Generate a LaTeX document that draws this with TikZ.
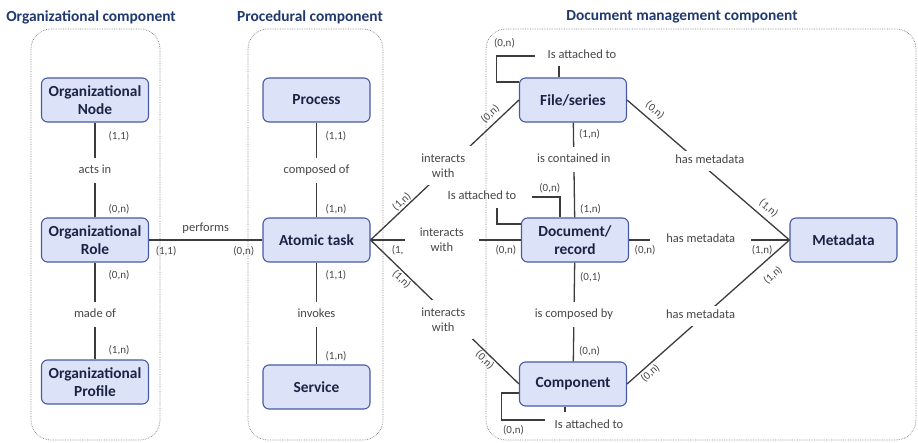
\documentclass[tikz,border=0pt]{standalone}
\usepackage{fontspec}
\setmainfont{Carlito}
\usetikzlibrary{positioning}
\definecolor{boxfill}{RGB}{220,227,248}
\definecolor{boxline}{RGB}{72,89,165}
\definecolor{boxtext}{RGB}{28,36,70}
\definecolor{headblue}{RGB}{31,56,110}
\definecolor{linegray}{RGB}{60,60,60}
\definecolor{labelgray}{RGB}{70,70,70}

\begin{document}
\begin{tikzpicture}[x=1pt,y=-1pt]
    \tikzset{entity/.style = {shape=rectangle, rounded corners=6pt, draw=boxline, line width=1.1pt, fill=boxfill, text=boxtext, font=\fontsize{15.4}{18.5}\selectfont\bfseries, align=center, minimum width=107pt, minimum height=44pt}}
    \tikzset{edge/.style = {draw=linegray, line width=1.3pt, -}}
    \tikzset{rel/.style = {fill=white, text=labelgray, font=\fontsize{12.5}{15}\selectfont, text height=9pt, text depth=3pt, inner xsep=3pt, inner ysep=6.5pt}}
    \tikzset{relm/.style = {fill=white, text=labelgray, font=\fontsize{12.5}{15}\selectfont, align=center, inner sep=8pt}}
    \tikzset{lbl/.style = {text=labelgray, font=\fontsize{12.5}{15}\selectfont, text height=9pt, text depth=3pt, inner sep=3pt}}
    \tikzset{card/.style = {text=labelgray, font=\fontsize{11}{13}\selectfont, inner sep=1pt}}
    \tikzset{title/.style = {text=headblue, font=\fontsize{15.4}{18}\selectfont\bfseries}}
    \tikzset{group/.style = {draw=gray, densely dotted, line width=0.7pt, rounded corners=20pt}}

    \useasboundingbox (0,0) rectangle (918,443);

    % components
    \draw[group] (31,29) rectangle (160,440);
    \draw[group] (248,29) rectangle (383,440);
    \draw[group] (486,29) rectangle (916,440);
    \node[title] (torg) at (91,17) {Organizational component};
    \node[title] (tproc) at (310,17) {Procedural component};
    \node[title] (tdoc) at (682,17) {Document management component};

    % vertices
    \node[entity] (on) at (95,100) {Organizational\\Node};
    \node[entity] (or) at (95,240) {Organizational\\Role};
    \node[entity] (op) at (95,382) {Organizational\\Profile};
    \node[entity] (pr) at (316.5,100) {Process};
    \node[entity] (at) at (316.5,240) {Atomic task};
    \node[entity] (sv) at (316.5,387) {Service};
    \node[entity] (fs) at (573,100) {File/series};
    \node[entity] (dr) at (575,240) {Document/\\record};
    \node[entity] (cp) at (573,384) {Component};
    \node[entity] (md) at (843.5,240) {Metadata};

    \node[lbl] (fsatt) at (582,56) {Is attached to};
    \node[lbl] (dratt) at (482,197) {Is attached to};
    \node[lbl] (cpatt) at (589,425) {Is attached to};

    % edges
    \draw[edge] (on) -- node[rel, pos=0.505]{acts in} node[card, pos=0.146, right=12pt]{(1,1)} node[card, pos=0.917, right=12pt]{(0,n)} (or);
    \draw[edge] (or) -- node[rel, pos=0.536]{made of} node[card, pos=0.13, right=12pt]{(0,n)} node[card, pos=0.908, right=12pt]{(1,n)} (op);
    \draw[edge] (or) -- node[lbl, above=2pt]{performs} node[card, pos=0.15, below=5pt]{(1,1)} node[card, pos=0.835, below=5pt]{(0,n)} (at);
    \draw[edge] (pr) -- node[rel, pos=0.505]{composed of} node[card, pos=0.146, right=7.5pt]{(1,1)} node[card, pos=0.917, right=7.5pt]{(1,n)} (at);
    \draw[edge] (at) -- node[rel, pos=0.51]{invokes} node[card, pos=0.126, right=7.5pt]{(1,1)} node[card, pos=0.92, right=7.5pt]{(1,n)} (sv);

    \draw[edge] (at.east) -- node[relm, pos=0.49, yshift=6pt]{interacts\\with}
        node[card, pos=0.24, sloped, above]{(1,n)}
        node[card, pos=0.85, sloped, above=3pt]{(0,n)} (fs.west);
    \draw[edge] (at.east) -- node[relm, pos=0.474, inner xsep=15pt]{interacts\\with}
        node[card, pos=0.18, below=4pt]{(1,}
        node[card, pos=0.9, below=4pt]{(0,n)} (dr.west);
    \draw[edge] (at.east) -- node[relm, pos=0.49, yshift=-9pt]{interacts\\with}
        node[card, pos=0.24, sloped, below]{(1,n)}
        node[card, pos=0.8, sloped, below]{(0,n)} (cp.west);

    \draw[edge] (fs) -- node[rel, pos=0.39]{is contained in} node[card, pos=0.125, right=4pt]{(1,n)} node[card, pos=0.917, right=4pt]{(1,n)} (dr);
    \draw[edge] (dr) -- node[rel, pos=0.53]{is composed by} node[card, pos=0.15, right=4pt]{(0,1)} node[card, pos=0.9, right=4pt]{(0,n)} (cp);

    \draw[edge] (fs.east) -- node[rel, pos=0.51, yshift=10.5pt, inner sep=4pt]{has metadata}
        node[card, pos=0.13, sloped, above=4pt]{(0,n)}
        node[card, pos=0.83, sloped, above=4pt]{(1,n)} (md.west);
    \draw[edge] (dr.east) -- node[rel, pos=0.447, inner xsep=16pt]{has metadata}
        node[card, pos=0.1, below=4pt]{(0,n)}
        node[card, pos=0.83, below=4pt]{(1,n)} (md.west);
    \draw[edge] (cp.east) -- node[rel, pos=0.453, yshift=3pt, inner sep=4pt]{has metadata}
        node[card, pos=0.113, sloped, below=1pt]{(0,n)}
        node[card, pos=0.835, sloped, below=9pt]{(1,n)} (md.west);

    % self loops
    \draw[edge] ([yshift=18pt]fs.west) -- ++(-22.5,0) |- node[card, pos=0.5, above=6pt, xshift=8pt]{(0,n)} ([xshift=-9pt]fsatt.west);
    \draw[edge] ([xshift=-23pt,yshift=-1pt]fsatt.south) -- ([xshift=-14pt]fs.north);
    \draw[edge] ([yshift=16pt]dr.west) -| ([xshift=15pt,yshift=-2pt]dratt.south);
    \draw[edge] ([xshift=12pt]dratt.east) -| node[card, pos=0.32, above=2pt]{(0,n)} ([xshift=-15pt]dr.north);
    \draw[edge] ([yshift=-9pt]cp.west) -- ++(-17.5,0) |- node[card, pos=0.5, below right=4pt and 0pt]{(0,n)} ([xshift=-6pt,yshift=5pt]cpatt.west);
    \draw[edge] ([xshift=-8pt]cp.south) -- ([xshift=-24pt,yshift=4pt]cpatt.north);
\end{tikzpicture}
\end{document}
